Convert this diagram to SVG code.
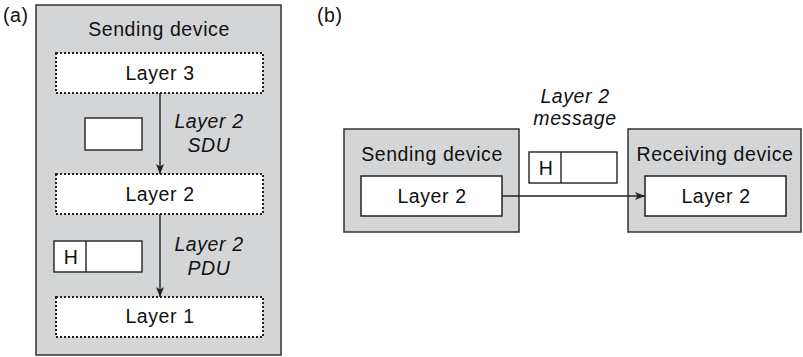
<svg xmlns="http://www.w3.org/2000/svg" width="803" height="357" viewBox="0 0 803 357">
  <defs>
    <style>
      .txt { font-family: "Liberation Sans", Arial, sans-serif; font-size: 19.5px; letter-spacing: 0.6px; fill: #111111; }
      .mid { text-anchor: middle; }
      .it { font-style: italic; }
      .device { fill: #d4d5d7; stroke: #333333; stroke-width: 1.5; }
      .layer { fill: #ffffff; stroke: #222222; stroke-width: 1.5; }
      .dotted { fill: #ffffff; stroke: #222222; stroke-width: 2; stroke-dasharray: 2 2; }
      .pkt { fill: #ffffff; stroke: #222222; stroke-width: 1.4; }
      .conn { stroke: #222222; stroke-width: 1.4; fill: none; }
    </style>
    <marker id="arrow" viewBox="0 0 10 8" refX="10" refY="4" markerWidth="10" markerHeight="8" markerUnits="userSpaceOnUse" orient="auto">
      <path d="M0,0 L10,4 L0,8 L2.5,4 Z" fill="#222222"/>
    </marker>
  </defs>

  <!-- panel labels -->
  <text class="txt" x="3" y="22">(a)</text>
  <text class="txt" x="317" y="22">(b)</text>

  <!-- (a) protocol stack inside one device -->
  <g id="a-sending-device">
    <rect class="device" x="36" y="5" width="245" height="350"/>
    <text class="txt mid" x="159" y="36">Sending device</text>
  </g>
  <g id="a-layer3">
    <rect class="dotted" x="56" y="53" width="207" height="40"/>
    <text class="txt mid" x="160" y="80">Layer 3</text>
  </g>
  <g id="a-layer2">
    <rect class="dotted" x="56" y="174" width="207" height="40"/>
    <text class="txt mid" x="160" y="201">Layer 2</text>
  </g>
  <g id="a-layer1">
    <rect class="dotted" x="56" y="297" width="207" height="40"/>
    <text class="txt mid" x="160" y="323">Layer 1</text>
  </g>
  <g id="a-sdu">
    <rect class="pkt" x="85" y="118" width="57" height="32"/>
  </g>
  <g id="a-pdu">
    <rect class="pkt" x="54" y="241" width="88" height="31"/>
    <line class="conn" x1="86" y1="241" x2="86" y2="272"/>
    <text class="txt mid" x="71" y="264">H</text>
  </g>

  <!-- (b) transfer between peer layers -->
  <g id="b-sending-device">
    <rect class="device" x="344" y="129" width="175" height="103"/>
    <text class="txt mid" x="432" y="161">Sending device</text>
  </g>
  <g id="b-sending-layer2">
    <rect class="layer" x="361" y="176" width="141" height="40"/>
    <text class="txt mid" x="432" y="203">Layer 2</text>
  </g>
  <g id="b-receiving-device">
    <rect class="device" x="628" y="129" width="173" height="103"/>
    <text class="txt mid" x="715" y="161">Receiving device</text>
  </g>
  <g id="b-receiving-layer2">
    <rect class="layer" x="645" y="176" width="141" height="40"/>
    <text class="txt mid" x="716" y="203">Layer 2</text>
  </g>
  <g id="b-message">
    <rect class="pkt" x="529" y="152" width="88" height="31"/>
    <line class="conn" x1="561" y1="152" x2="561" y2="183"/>
    <text class="txt mid" x="546" y="175">H</text>
  </g>

  <!-- connectors and their labels -->
  <g id="connectors">
    <line class="conn" x1="160" y1="93" x2="160" y2="174" marker-end="url(#arrow)"/>
    <line class="conn" x1="160" y1="214" x2="160" y2="297" marker-end="url(#arrow)"/>
    <line class="conn" x1="502" y1="196" x2="645" y2="196" marker-end="url(#arrow)"/>
    <text class="txt mid it" x="209" y="128">Layer 2</text>
    <text class="txt mid it" x="209" y="152">SDU</text>
    <text class="txt mid it" x="209" y="251">Layer 2</text>
    <text class="txt mid it" x="209" y="275">PDU</text>
    <text class="txt mid it" x="575" y="103">Layer 2</text>
    <text class="txt mid it" x="575" y="125">message</text>
  </g>
</svg>
